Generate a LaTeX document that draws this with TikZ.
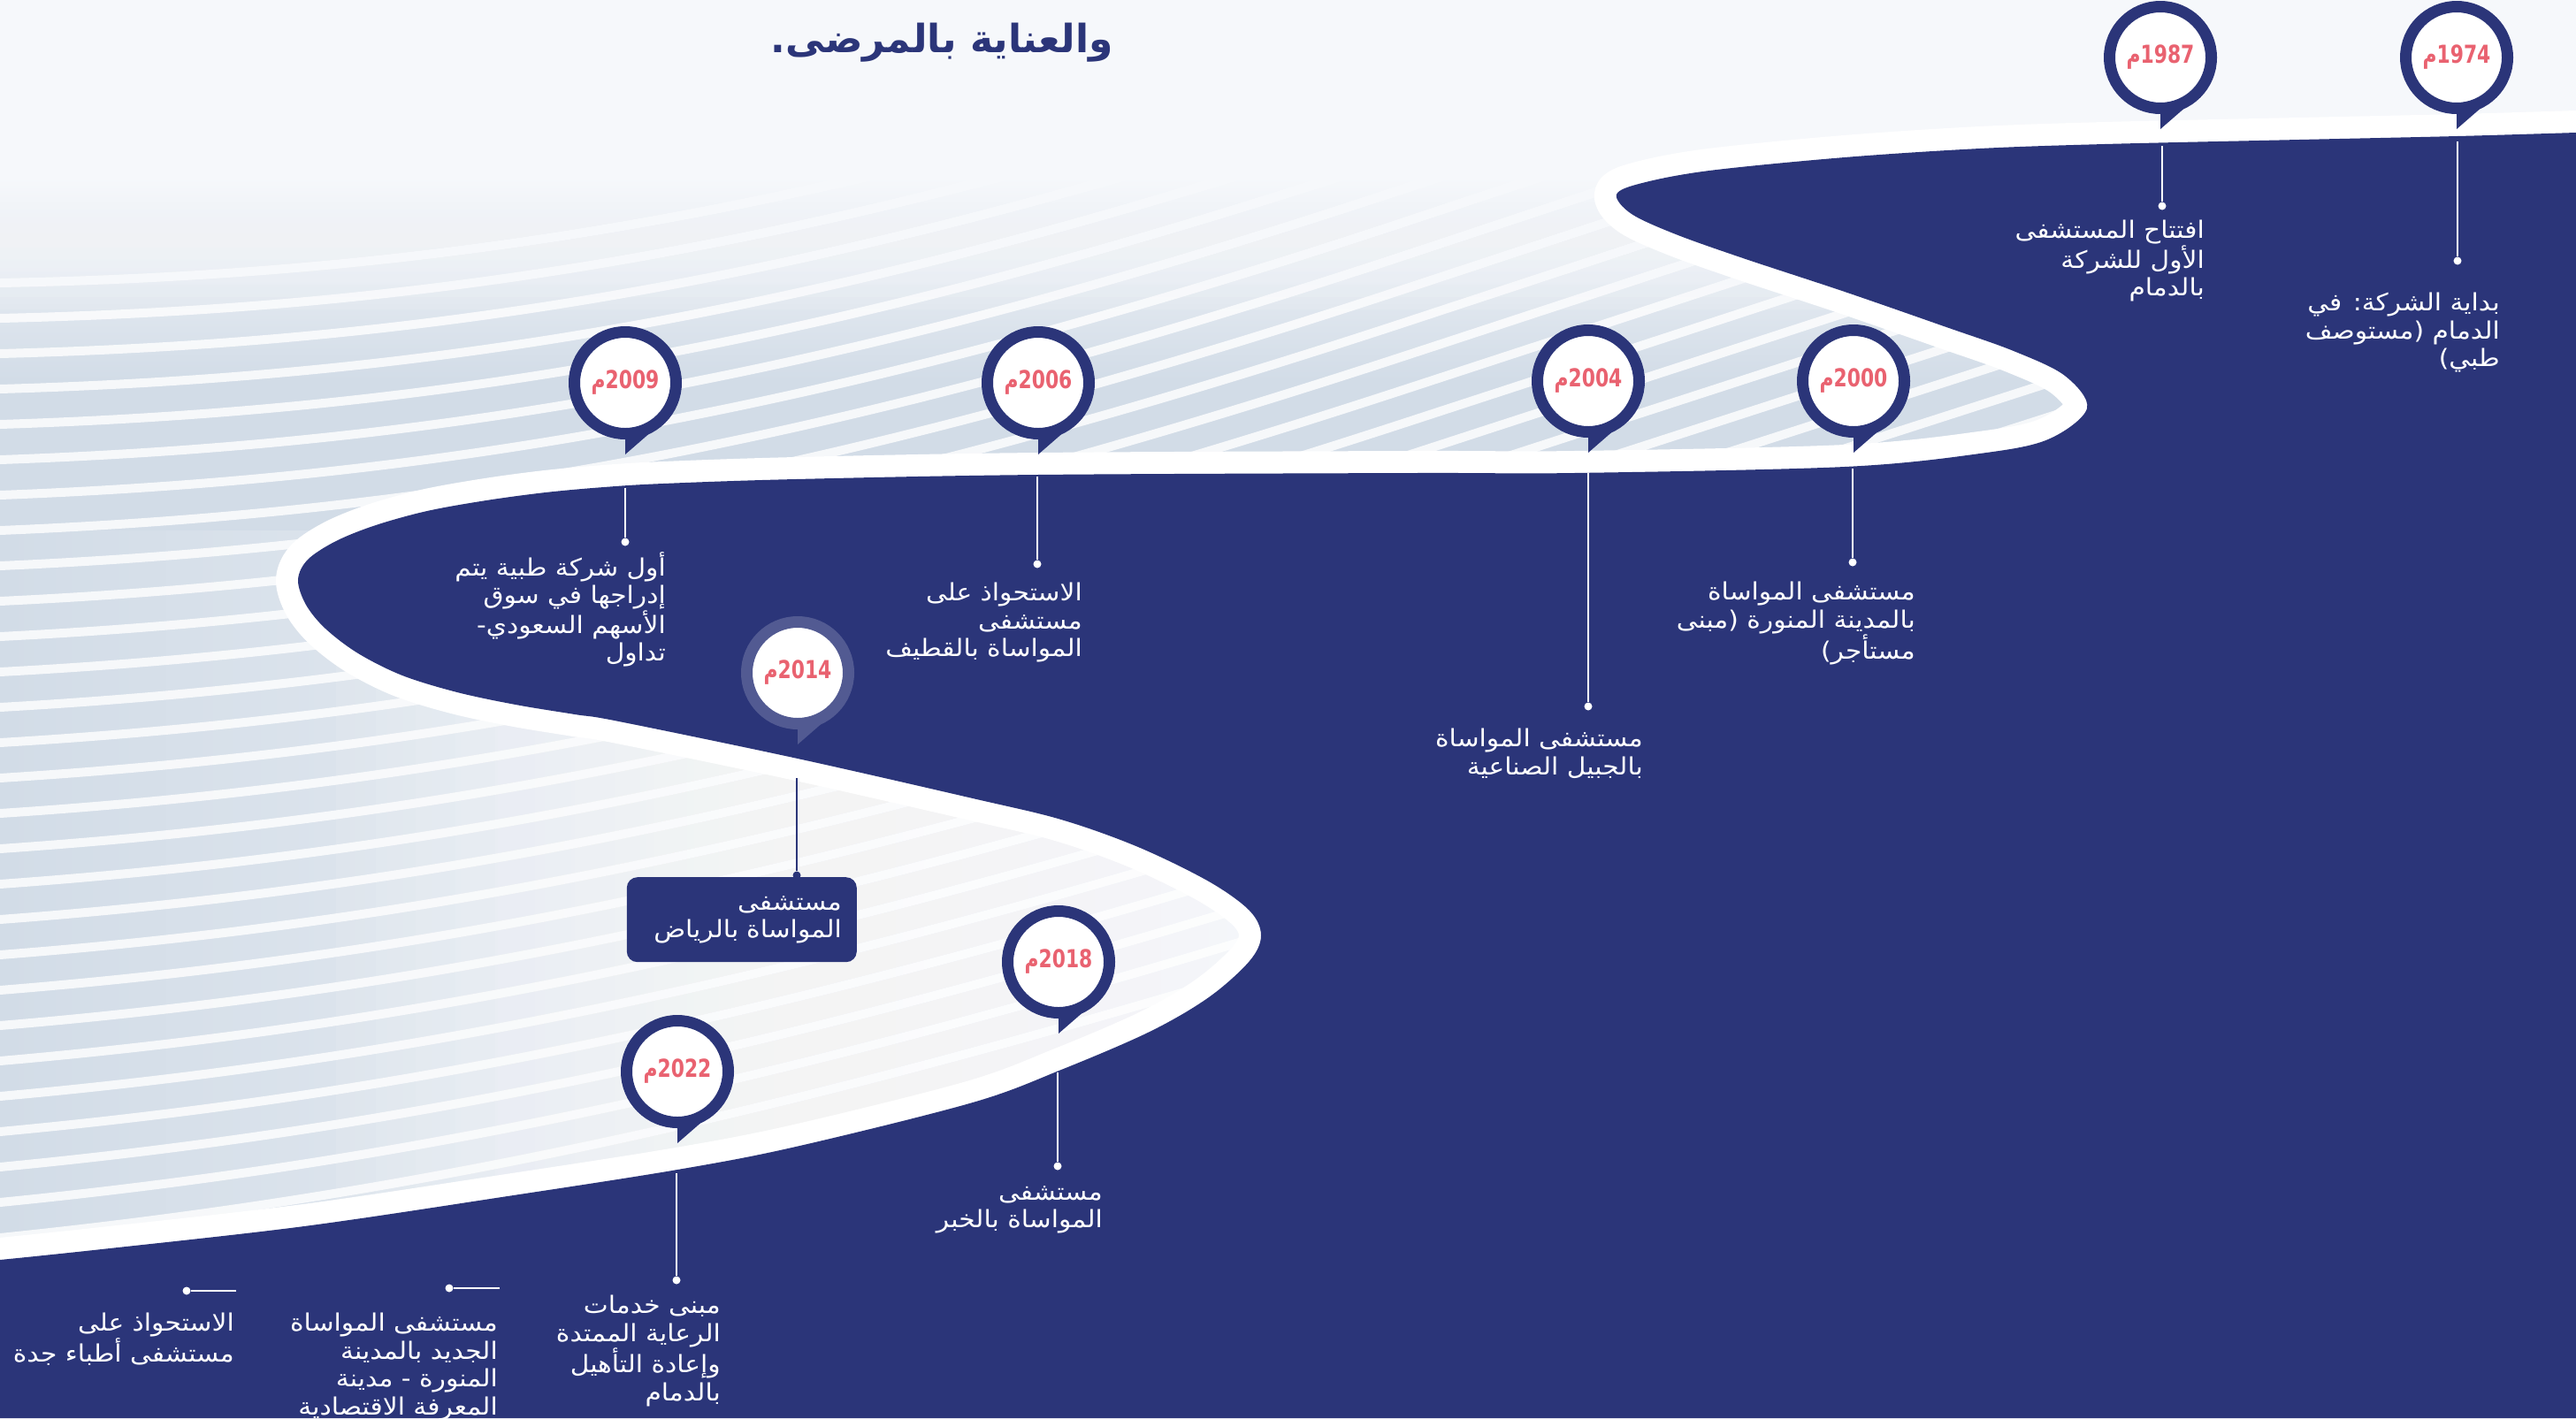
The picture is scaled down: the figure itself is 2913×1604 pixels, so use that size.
\documentclass[tikz,border=0pt]{standalone}
\usepackage{fontspec}
\usepackage{graphicx}
\TeXXeTstate=1
\newfontfamily\arabicfont[Script=Arabic, FakeStretch=1.1]{DejaVu Sans}
\newfontfamily\yearar[Script=Arabic]{DejaVu Sans}
\newfontfamily\latinfont{DejaVu Sans}
\definecolor{navy}{RGB}{43,53,121}
\definecolor{pinkred}{RGB}{233,98,112}
\definecolor{ringlight}{RGB}{82,90,146}
\definecolor{bgbase}{RGB}{246,248,251}
\definecolor{bggray}{RGB}{210,220,231}
\newcommand\yeartxt[1]{\scalebox{0.78}[1]{\mbox{\yearar\bfseries م}\mbox{\latinfont\bfseries #1}}}
\newcommand\mkpin[5]{%
  \fill[#5] (#2,#3+38) -- (#2,#3+81) -- (#2+46,#3+41) -- cycle;
  \node[pinring=#5] (#1) at (#2,#3) {\yeartxt{#4}};}
\tikzset{
  pinring/.style={circle, draw=#1, line width=13pt, fill=white, minimum size=115pt, inner sep=0pt, text=pinkred, font=\fontsize{28}{30}\selectfont},
  conn/.style={white, line width=2.4pt},
  conndark/.style={navy, line width=2.4pt},
  dotw/.style={circle, fill=white, inner sep=0pt, minimum size=9pt},
  dotn/.style={circle, fill=navy, inner sep=0pt, minimum size=9pt},
  body/.style={text=white, font=\arabicfont\fontsize{27}{31.5}\selectfont, align=right, anchor=north east, inner sep=0pt},
  infobox/.style={fill=navy, rounded corners=12pt, text=white, font=\arabicfont\fontsize{27}{31.5}\selectfont, text width=226pt, align=right, inner xsep=17pt, inner ysep=0pt, minimum height=96pt, anchor=north east},
  stripe/.style={white, line width=10pt, opacity=0.8, line cap=round},
}
\begin{document}
\begin{tikzpicture}[x=1pt, y=-1pt]
\useasboundingbox (0,0) rectangle (2913,1604);
% background
\fill[bgbase] (0,0) rectangle (2913,1604);
\shade[top color=bgbase, bottom color=bggray] (0,200) rectangle (2913,430);
\fill[bggray] (0,429) rectangle (2913,601);
\shade[left color=bggray, right color=bgbase] (0,600) rectangle (1500,1604);
\begin{scope}
\clip (0,170) rectangle (2913,1604);
\foreach \y in {320,360,...,1640} {
  \pgfmathsetmacro\dd{(\y-320)/1320}
  \draw[stripe] (0,\y) .. controls (500,\y-10-50*\dd) and (950,\y-80-90*\dd) .. (1600,\y-300-70*\dd) -- (2600,\y-638-39*\dd);
}
\end{scope}
\foreach \k in {0,...,11} \fill[bgbase, opacity=0.15] (0,160) rectangle (2913,350-\k*14);
\foreach \k in {0,...,19} \fill[white, opacity=0.09] (380+\k*45,600) rectangle (1500,1604);
% dark region with white band
\fill[navy, preaction={draw=white, line width=50pt, line join=round}] plot[smooth, tension=0.55] coordinates {
(2913,150) (2779,154) (2600,158) (2380,163) (2239,168) (2086,178) (1933,193) (1857,207) (1828,220) (1845,242) (1895,265) (1971,292) (2086,330) (2201,370) (2277,397) (2335,425) (2360,462) (2316,497) (2239,513) (2086,528) (1780,535) (1600,535) (1173,537) (900,542) (750,547) (683,551) (617,557) (550,566) (483,578) (425,594) (380,612) (348,633) (337,656) (346,684) (368,711) (405,739) (455,764) (517,783) (583,797) (650,808) (700,816) (902,858) (1100,903) (1200,927) (1287,958) (1367,997) (1413,1030) (1426,1058) (1413,1087) (1367,1128) (1300,1167) (1200,1210) (1100,1247) (900,1297) (766,1323) (574,1353) (344,1387) (115,1413) (0,1425)
} -- (0,1604) -- (2913,1604) -- cycle;
% title
\node[anchor=north east, text=navy, font=\yearar\bfseries\fontsize{44}{50}\selectfont, inner sep=0pt] (title) at (1259,26) {\beginR والعناية بالمرضى.\endR};
% pins
\mkpin{p1974}{2778}{65}{1974}{navy}
\mkpin{p1987}{2443}{65}{1987}{navy}
\mkpin{p2000}{2096}{431}{2000}{navy}
\mkpin{p2004}{1796}{431}{2004}{navy}
\mkpin{p2006}{1174}{433}{2006}{navy}
\mkpin{p2009}{707}{433}{2009}{navy}
\mkpin{p2014}{902}{761}{2014}{ringlight}
\mkpin{p2018}{1197}{1088}{2018}{navy}
\mkpin{p2022}{766}{1212}{2022}{navy}
% connectors
\coordinate (s1974) at (2779,160); \node[dotw] (d1974) at (2779,295) {}; \draw[conn] (s1974) -- (d1974);
\coordinate (s1987) at (2445,165); \node[dotw] (d1987) at (2445,233) {}; \draw[conn] (s1987) -- (d1987);
\coordinate (s2000) at (2095,530); \node[dotw] (d2000) at (2095,636) {}; \draw[conn] (s2000) -- (d2000);
\coordinate (s2004) at (1796,535); \node[dotw] (d2004) at (1796,799) {}; \draw[conn] (s2004) -- (d2004);
\coordinate (s2006) at (1173,539); \node[dotw] (d2006) at (1173,638) {}; \draw[conn] (s2006) -- (d2006);
\coordinate (s2009) at (707,552); \node[dotw] (d2009) at (707,613) {}; \draw[conn] (s2009) -- (d2009);
\coordinate (s2014) at (901,880); \node[dotn] (d2014) at (901,990) {}; \draw[conndark] (s2014) -- (d2014);
\coordinate (s2018) at (1196,1213); \node[dotw] (d2018) at (1196,1319) {}; \draw[conn] (s2018) -- (d2018);
\coordinate (s2022) at (765,1327); \node[dotw] (d2022) at (765,1448) {}; \draw[conn] (s2022) -- (d2022);
\coordinate (smed) at (565,1457); \node[dotw] (dmed) at (508,1457) {}; \draw[conn] (smed) -- (dmed);
\coordinate (sjed) at (267,1460); \node[dotw] (djed) at (211,1460) {}; \draw[conn] (sjed) -- (djed);
% texts
\node[body] (t1974) at (2827,331) {\beginR بداية الشركة: في\endR\\\beginR الدمام (مستوصف\endR\\\beginR طبي)\endR};
\node[body] (t1987) at (2493,249) {\beginR افتتاح المستشفى\endR\\\beginR الأول للشركة\endR\\\beginR بالدمام\endR};
\node[body] (t2000) at (2166,658) {\beginR مستشفى المواساة\endR\\\beginR بالمدينة المنورة (مبنى\endR\\\beginR مستأجر)\endR};
\node[body] (t2004) at (1858,824) {\beginR مستشفى المواساة\endR\\\beginR بالجبيل الصناعية\endR};
\node[body] (t2006) at (1224,659) {\beginR الاستحواذ على\endR\\\beginR مستشفى\endR\\\beginR المواساة بالقطيف\endR};
\node[body] (t2009) at (753,624) {\beginR أول شركة طبية يتم\endR\\\beginR إدراجها في سوق\endR\\\beginR الأسهم السعودي-\endR\\\beginR تداول\endR};
\node[infobox] (b2014) at (969,992) {\beginR مستشفى\endR\\\beginR المواساة بالرياض\endR};
\node[body] (t2018) at (1247,1341) {\beginR مستشفى\endR\\\beginR المواساة بالخبر\endR};
\node[body] (t2022) at (815,1465) {\beginR مبنى خدمات\endR\\\beginR الرعاية الممتدة\endR\\\beginR وإعادة التأهيل\endR\\\beginR بالدمام\endR};
\node[body] (tmed) at (563,1485) {\beginR مستشفى المواساة\endR\\\beginR الجديد بالمدينة\endR\\\beginR المنورة - مدينة\endR\\\beginR المعرفة الاقتصادية\endR};
\node[body] (tjed) at (265,1485) {\beginR الاستحواذ على\endR\\\beginR مستشفى أطباء جدة\endR};
\end{tikzpicture}
\end{document}
